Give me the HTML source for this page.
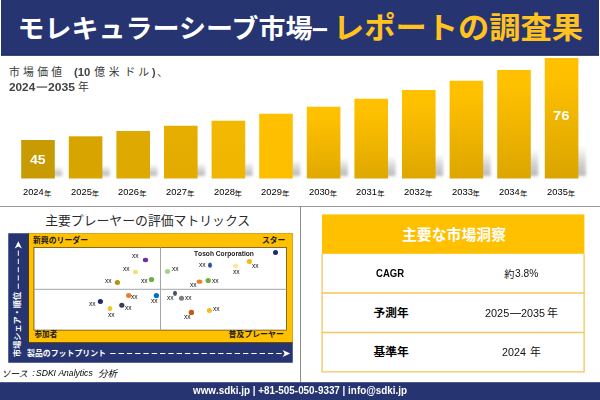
<!DOCTYPE html>
<html lang="ja"><head><meta charset="utf-8"><title>モレキュラーシーブ市場 - レポートの調査果</title>
<style>
html,body{margin:0;padding:0;background:#fff}
body{width:600px;height:400px;position:relative;overflow:hidden;font-family:"Liberation Sans",sans-serif}
svg{position:absolute;left:0;top:0;display:block}
svg text{font-family:"Liberation Sans","Noto Sans CJK JP",sans-serif}
.txt{position:absolute;left:0;top:0;width:600px;height:400px;will-change:transform}
.t{position:absolute;white-space:nowrap;line-height:1;transform-origin:0 0;font-kerning:none}
</style></head><body>
<svg width="600" height="400" viewBox="0 0 600 400"><defs><filter id="bl" x="-50%" y="-20%" width="200%" height="140%"><feGaussianBlur stdDeviation="1.4"/></filter><linearGradient id="sh" x1="0" y1="0" x2="0" y2="1"><stop offset="0" stop-color="#000" stop-opacity="0"/><stop offset="0.55" stop-color="#000" stop-opacity="0.17"/><stop offset="1" stop-color="#000" stop-opacity="0.27"/></linearGradient><linearGradient id="g0" x1="0" y1="0" x2="0" y2="1"><stop offset="0.15" stop-color="#c89b03"/><stop offset="1" stop-color="#c89b03"/></linearGradient><linearGradient id="g1" x1="0" y1="0" x2="0" y2="1"><stop offset="0.15" stop-color="#d8a500"/><stop offset="1" stop-color="#d8a500"/></linearGradient><linearGradient id="g2" x1="0" y1="0" x2="0" y2="1"><stop offset="0.15" stop-color="#dea900"/><stop offset="1" stop-color="#dea900"/></linearGradient><linearGradient id="g3" x1="0" y1="0" x2="0" y2="1"><stop offset="0.15" stop-color="#e6ae00"/><stop offset="1" stop-color="#e3ab00"/></linearGradient><linearGradient id="g4" x1="0" y1="0" x2="0" y2="1"><stop offset="0.15" stop-color="#f3b800"/><stop offset="1" stop-color="#efb500"/></linearGradient><linearGradient id="g5" x1="0" y1="0" x2="0" y2="1"><stop offset="0.15" stop-color="#ffc000"/><stop offset="1" stop-color="#fdbe00"/></linearGradient><linearGradient id="g6" x1="0" y1="0" x2="0" y2="1"><stop offset="0.15" stop-color="#ffc000"/><stop offset="1" stop-color="#e0a900"/></linearGradient><linearGradient id="g7" x1="0" y1="0" x2="0" y2="1"><stop offset="0.15" stop-color="#ffc000"/><stop offset="1" stop-color="#dfa800"/></linearGradient><linearGradient id="g8" x1="0" y1="0" x2="0" y2="1"><stop offset="0.15" stop-color="#ffc000"/><stop offset="1" stop-color="#dea700"/></linearGradient><linearGradient id="g9" x1="0" y1="0" x2="0" y2="1"><stop offset="0.15" stop-color="#ffc000"/><stop offset="1" stop-color="#dda600"/></linearGradient><linearGradient id="g10" x1="0" y1="0" x2="0" y2="1"><stop offset="0.15" stop-color="#ffc000"/><stop offset="1" stop-color="#dca600"/></linearGradient><linearGradient id="g11" x1="0" y1="0" x2="0" y2="1"><stop offset="0.15" stop-color="#ffc000"/><stop offset="1" stop-color="#daa500"/></linearGradient></defs>
<rect x="1" y="0" width="598" height="55.6" fill="#263471"/>
<rect x="1" y="54.6" width="598" height="1" fill="#1b2359"/>
<text x="17.5" y="37.6" font-size="26" font-weight="bold" fill="#fff" textLength="295" lengthAdjust="spacingAndGlyphs">モレキュラーシーブ市場</text>
<rect x="312.8" y="28.1" width="14.4" height="3" fill="#fff"/>
<text x="333" y="38.2" font-size="30" font-weight="bold" fill="#ffc21f" textLength="250" lengthAdjust="spacingAndGlyphs">レポートの調査果</text>
<rect x="51.80" y="166.38" width="10.5" height="9.62" fill="url(#sh)" filter="url(#bl)"/>
<rect x="99.40" y="165.45" width="10.5" height="10.55" fill="url(#sh)" filter="url(#bl)"/>
<rect x="147.00" y="164.12" width="10.5" height="11.88" fill="url(#sh)" filter="url(#bl)"/>
<rect x="194.60" y="162.81" width="10.5" height="13.19" fill="url(#sh)" filter="url(#bl)"/>
<rect x="242.20" y="161.56" width="10.5" height="14.44" fill="url(#sh)" filter="url(#bl)"/>
<rect x="289.80" y="159.81" width="10.5" height="16.19" fill="url(#sh)" filter="url(#bl)"/>
<rect x="337.40" y="158.06" width="10.5" height="17.94" fill="url(#sh)" filter="url(#bl)"/>
<rect x="385.00" y="156.06" width="10.5" height="19.94" fill="url(#sh)" filter="url(#bl)"/>
<rect x="432.60" y="153.88" width="10.5" height="22.12" fill="url(#sh)" filter="url(#bl)"/>
<rect x="480.20" y="151.56" width="10.5" height="24.44" fill="url(#sh)" filter="url(#bl)"/>
<rect x="527.80" y="148.88" width="10.5" height="27.12" fill="url(#sh)" filter="url(#bl)"/>
<rect x="575.40" y="145.88" width="10.5" height="30.12" fill="url(#sh)" filter="url(#bl)"/>
<rect x="21.20" y="140.00" width="33.6" height="38.50" fill="url(#g0)"/>
<rect x="68.80" y="136.30" width="33.6" height="42.20" fill="url(#g1)"/>
<rect x="116.40" y="131.00" width="33.6" height="47.50" fill="url(#g2)"/>
<rect x="164.00" y="125.75" width="33.6" height="52.75" fill="url(#g3)"/>
<rect x="211.60" y="120.75" width="33.6" height="57.75" fill="url(#g4)"/>
<rect x="259.20" y="113.75" width="33.6" height="64.75" fill="url(#g5)"/>
<rect x="306.80" y="106.75" width="33.6" height="71.75" fill="url(#g6)"/>
<rect x="354.40" y="98.75" width="33.6" height="79.75" fill="url(#g7)"/>
<rect x="402.00" y="90.00" width="33.6" height="88.50" fill="url(#g8)"/>
<rect x="449.60" y="80.75" width="33.6" height="97.75" fill="url(#g9)"/>
<rect x="497.20" y="70.00" width="33.6" height="108.50" fill="url(#g10)"/>
<rect x="544.80" y="58.00" width="33.6" height="120.50" fill="url(#g11)"/>
<text x="44.1" y="195.5" font-size="7.4" fill="#000">年</text>
<text x="91.7" y="195.5" font-size="7.4" fill="#000">年</text>
<text x="139.3" y="195.5" font-size="7.4" fill="#000">年</text>
<text x="186.9" y="195.5" font-size="7.4" fill="#000">年</text>
<text x="234.5" y="195.5" font-size="7.4" fill="#000">年</text>
<text x="282.1" y="195.5" font-size="7.4" fill="#000">年</text>
<text x="329.7" y="195.5" font-size="7.4" fill="#000">年</text>
<text x="377.3" y="195.5" font-size="7.4" fill="#000">年</text>
<text x="424.9" y="195.5" font-size="7.4" fill="#000">年</text>
<text x="472.5" y="195.5" font-size="7.4" fill="#000">年</text>
<text x="520.1" y="195.5" font-size="7.4" fill="#000">年</text>
<text x="567.7" y="195.5" font-size="7.4" fill="#000">年</text>
<text x="9" y="76" font-size="10.8" fill="#3a3a3a" textLength="53" lengthAdjust="spacing">市場価値</text>
<text x="94.2" y="76" font-size="10.8" fill="#3a3a3a" textLength="25.4" lengthAdjust="spacing">億米</text>
<text x="124.5" y="76" font-size="10.8" fill="#3a3a3a" textLength="24.5" lengthAdjust="spacing">ドル</text>
<text x="157" y="76" font-size="10.8" fill="#3a3a3a">、</text>
<rect x="36.6" y="86.5" width="10.6" height="1.1" fill="#3a3a3a"/>
<text x="78" y="91" font-size="10.8" fill="#3a3a3a">年</text>
<rect x="0" y="206" width="600" height="1" fill="#999"/>
<rect x="300" y="206" width="1" height="176" fill="#8c8c8c"/>
<text x="45.2" y="224.7" font-size="12.8" fill="#2b2b2b" textLength="205" lengthAdjust="spacingAndGlyphs">主要プレーヤーの評価マトリックス</text>
<rect x="8.25" y="233.25" width="284.5" height="129.5" fill="#263471"/>
<rect x="28.5" y="233.25" width="264.25" height="109.3" fill="#ffc000"/>
<rect x="28.1" y="233.25" width="0.9" height="109.6" fill="#3d3212"/>
<rect x="28.1" y="342.3" width="264.65" height="1" fill="#4a3a12"/>
<rect x="34" y="247.5" width="252.5" height="82.6" fill="#fff" stroke="#4d3b00" stroke-width="0.7"/>
<rect x="160" y="247.5" width="1" height="82.6" fill="#a6a6a6"/>
<rect x="34" y="288.8" width="252.5" height="1" fill="#a6a6a6"/>
<text x="33" y="243.3" font-size="7.8" font-weight="bold" fill="#1a1a1a" textLength="55" lengthAdjust="spacingAndGlyphs">新興のリーダー</text>
<text x="262" y="243.3" font-size="7.8" font-weight="bold" fill="#1a1a1a" textLength="23.3" lengthAdjust="spacingAndGlyphs">スター</text>
<text x="34.5" y="337.2" font-size="7.6" font-weight="bold" fill="#1a1a1a" textLength="22.7" lengthAdjust="spacingAndGlyphs">参加者</text>
<text x="228.4" y="337.2" font-size="7.8" font-weight="bold" fill="#1a1a1a" textLength="55.4" lengthAdjust="spacingAndGlyphs">普及プレーヤー</text>
<text x="27" y="355.6" font-size="7.8" font-weight="bold" fill="#fff" textLength="79" lengthAdjust="spacingAndGlyphs">製品のフットプリント</text>
<text transform="translate(20.2 356.7) rotate(-90)" x="-0.2" y="0.1" font-size="8" font-weight="bold" fill="#fff" textLength="65" lengthAdjust="spacingAndGlyphs">市場シェア・順位</text>
<path d="M18.3 288.8V248" stroke="#fff" stroke-width="1" stroke-dasharray="5.25 3" fill="none"/>
<path d="M18.3 241.2l3.6 7.2l-3.6 -2l-3.6 2z" fill="#fff"/>
<path d="M110.2 353.5H283" stroke="#fff" stroke-width="1" stroke-dasharray="5.4 2.9" fill="none"/>
<path d="M290.2 353.5l-7.6 -3.5l2 3.5l-2 3.5z" fill="#fff"/>
<ellipse cx="145.5" cy="260" rx="2.7" ry="2.2" fill="#7030a0"/>
<ellipse cx="135.4" cy="272" rx="2.5" ry="2.3" fill="#efe070"/>
<ellipse cx="117.4" cy="282.5" rx="2.6" ry="2.5" fill="#b8900a"/>
<ellipse cx="151.5" cy="279.5" rx="2.7" ry="2.6" fill="#70ad47"/>
<ellipse cx="167.5" cy="271.5" rx="2.6" ry="2.5" fill="#a9d18e"/>
<ellipse cx="128.7" cy="295.5" rx="2.7" ry="2.5" fill="#ed7d31"/>
<ellipse cx="156.4" cy="295.5" rx="2.6" ry="2.6" fill="#0070c0"/>
<ellipse cx="100.4" cy="301.6" rx="2.6" ry="2.5" fill="#1f2a6b"/>
<ellipse cx="175" cy="293.3" rx="2.0" ry="2.6" fill="#44546a"/>
<ellipse cx="121.8" cy="305.2" rx="2.6" ry="2.5" fill="#333f50"/>
<ellipse cx="110" cy="308.5" rx="2.3" ry="2.6" fill="#f4c430"/>
<ellipse cx="210" cy="265.2" rx="2.0" ry="2.6" fill="#2f5597"/>
<ellipse cx="235.6" cy="266" rx="2.5" ry="2.5" fill="#ffe699"/>
<ellipse cx="199.5" cy="281.7" rx="2.8" ry="2.1" fill="#ed7d31"/>
<ellipse cx="208.2" cy="280.5" rx="2.7" ry="2.6" fill="#70ad47"/>
<ellipse cx="181.5" cy="298.2" rx="2.6" ry="2.5" fill="#7f7f7f"/>
<ellipse cx="191.4" cy="312.4" rx="2.7" ry="2.6" fill="#c55a11"/>
<ellipse cx="209.4" cy="310.5" rx="2.6" ry="2.5" fill="#f5be28"/>
<ellipse cx="275.5" cy="252.4" rx="2.5" ry="2.5" fill="#1f2a6b"/>
<ellipse cx="249.4" cy="261.4" rx="2.6" ry="2.5" fill="#f5b919"/>
<text x="1.5" y="376.7" font-size="9" font-style="italic" fill="#000" textLength="26" lengthAdjust="spacingAndGlyphs">ソース</text>
<text x="98" y="376.8" font-size="9.4" font-style="italic" fill="#000" textLength="19" lengthAdjust="spacingAndGlyphs">分析</text>
<rect x="322" y="214.4" width="262.4" height="39.4" fill="#ffc000"/>
<path d="M322.1 253.8V371.8H584.1V253.8M322.1 293H584.1M322.1 332.5H584.1" fill="none" stroke="#f2c75c" stroke-width="1.3"/>
<text x="402" y="240.2" font-size="14.6" font-weight="bold" fill="#fff" textLength="104" lengthAdjust="spacingAndGlyphs">主要な市場洞察</text>
<text x="504.2" y="278" font-size="10.2" fill="#111">約</text>
<text x="373.6" y="317" font-size="11.6" font-weight="bold" fill="#000" textLength="35" lengthAdjust="spacingAndGlyphs">予測年</text>
<text x="373.6" y="356" font-size="11.6" font-weight="bold" fill="#000" textLength="35.3" lengthAdjust="spacingAndGlyphs">基準年</text>
<rect x="510" y="313" width="11" height="0.9" fill="#222"/>
<text x="546.9" y="317.3" font-size="10.8" fill="#111">年</text>
<text x="530" y="356" font-size="10.8" fill="#111">年</text>
<rect x="0" y="382.2" width="600" height="17.8" fill="#263471"/>
</svg>
<div class="txt">
<span class="t" style="left:29.79px;top:152.66px;font-size:13.40px;color:#fff;font-weight:bold;transform:scaleX(1.0468);">45</span>
<span class="t" style="left:552.96px;top:109.00px;font-size:13.00px;color:#fff;font-weight:bold;transform:scaleX(1.1391);">76</span>
<span class="t" style="left:23.28px;top:188.15px;font-size:8.80px;color:#000;transform:scaleX(1.0595);">2024</span>
<span class="t" style="left:70.88px;top:188.15px;font-size:8.80px;color:#000;transform:scaleX(1.0658);">2025</span>
<span class="t" style="left:118.48px;top:188.15px;font-size:8.80px;color:#000;transform:scaleX(1.0668);">2026</span>
<span class="t" style="left:166.08px;top:188.15px;font-size:8.80px;color:#000;transform:scaleX(1.0700);">2027</span>
<span class="t" style="left:213.68px;top:188.15px;font-size:8.80px;color:#000;transform:scaleX(1.0666);">2028</span>
<span class="t" style="left:261.28px;top:188.15px;font-size:8.80px;color:#000;transform:scaleX(1.0685);">2029</span>
<span class="t" style="left:308.88px;top:188.15px;font-size:8.80px;color:#000;transform:scaleX(1.0644);">2030</span>
<span class="t" style="left:356.48px;top:188.15px;font-size:8.80px;color:#000;transform:scaleX(1.0693);">2031</span>
<span class="t" style="left:404.08px;top:188.15px;font-size:8.80px;color:#000;transform:scaleX(1.0700);">2032</span>
<span class="t" style="left:451.68px;top:188.15px;font-size:8.80px;color:#000;transform:scaleX(1.0668);">2033</span>
<span class="t" style="left:499.28px;top:188.15px;font-size:8.80px;color:#000;transform:scaleX(1.0595);">2034</span>
<span class="t" style="left:546.88px;top:188.15px;font-size:8.80px;color:#000;transform:scaleX(1.0658);">2035</span>
<span class="t" style="left:74.03px;top:67.03px;font-size:10.60px;color:#444;font-weight:bold;transform:scaleX(1.0726);">(10</span>
<span class="t" style="left:151.99px;top:67.03px;font-size:10.60px;color:#444;font-weight:bold;">)</span>
<span class="t" style="left:8.59px;top:81.94px;font-size:10.70px;color:#444;font-weight:bold;transform:scaleX(1.1037);">2024</span>
<span class="t" style="left:48.28px;top:81.94px;font-size:10.70px;color:#444;font-weight:bold;transform:scaleX(1.1368);">2035</span>
<span class="t" style="left:131.73px;top:252.74px;font-size:6.80px;color:#111;transform:scaleX(0.9774);">xx</span>
<span class="t" style="left:122.73px;top:265.74px;font-size:6.80px;color:#111;transform:scaleX(0.9774);">xx</span>
<span class="t" style="left:104.73px;top:278.44px;font-size:6.80px;color:#111;transform:scaleX(0.9774);">xx</span>
<span class="t" style="left:140.73px;top:278.44px;font-size:6.80px;color:#111;transform:scaleX(0.9774);">xx</span>
<span class="t" style="left:171.73px;top:266.44px;font-size:6.80px;color:#111;transform:scaleX(0.9774);">xx</span>
<span class="t" style="left:130.93px;top:293.64px;font-size:6.80px;color:#111;transform:scaleX(0.9774);">xx</span>
<span class="t" style="left:150.83px;top:297.64px;font-size:6.80px;color:#111;transform:scaleX(0.9774);">xx</span>
<span class="t" style="left:166.83px;top:294.54px;font-size:6.80px;color:#111;transform:scaleX(0.9774);">xx</span>
<span class="t" style="left:88.93px;top:300.74px;font-size:6.80px;color:#111;transform:scaleX(0.9774);">xx</span>
<span class="t" style="left:107.73px;top:311.74px;font-size:6.80px;color:#111;transform:scaleX(0.9774);">xx</span>
<span class="t" style="left:124.93px;top:304.74px;font-size:6.80px;color:#111;transform:scaleX(0.9774);">xx</span>
<span class="t" style="left:198.93px;top:262.44px;font-size:6.80px;color:#111;transform:scaleX(0.9774);">xx</span>
<span class="t" style="left:233.03px;top:268.74px;font-size:6.80px;color:#111;transform:scaleX(0.9774);">xx</span>
<span class="t" style="left:189.93px;top:281.74px;font-size:6.80px;color:#111;transform:scaleX(0.9774);">xx</span>
<span class="t" style="left:211.73px;top:278.44px;font-size:6.80px;color:#111;transform:scaleX(0.9774);">xx</span>
<span class="t" style="left:184.73px;top:294.54px;font-size:6.80px;color:#111;transform:scaleX(0.9774);">xx</span>
<span class="t" style="left:183.73px;top:314.44px;font-size:6.80px;color:#111;transform:scaleX(0.9774);">xx</span>
<span class="t" style="left:212.73px;top:306.44px;font-size:6.80px;color:#111;transform:scaleX(0.9774);">xx</span>
<span class="t" style="left:251.73px;top:262.54px;font-size:6.80px;color:#111;transform:scaleX(0.9774);">xx</span>
<span class="t" style="left:193.63px;top:250.56px;font-size:6.90px;color:#1a1a1a;font-weight:bold;transform:scaleX(0.9661);">Tosoh Corporation</span>
<span class="t" style="left:32.23px;top:368.04px;font-size:9.40px;color:#000;font-style:italic;">:</span>
<span class="t" style="left:35.66px;top:368.24px;font-size:9.40px;color:#000;font-style:italic;transform:scaleX(0.9140);">SDKI Analytics</span>
<span class="t" style="left:375.86px;top:268.87px;font-size:10.20px;color:#000;font-weight:bold;transform:scaleX(0.9352);">CAGR</span>
<span class="t" style="left:515.11px;top:268.70px;font-size:10.40px;color:#111;transform:scaleX(0.9809);">3.8%</span>
<span class="t" style="left:485.20px;top:308.03px;font-size:10.60px;color:#111;transform:scaleX(1.0286);">2025</span>
<span class="t" style="left:521.46px;top:308.03px;font-size:10.60px;color:#111;transform:scaleX(1.0176);">2035</span>
<span class="t" style="left:501.96px;top:346.53px;font-size:10.60px;color:#111;transform:scaleX(1.0116);">2024</span>
<span class="t" style="left:193.03px;top:386.17px;font-size:10.20px;color:#fff;font-weight:bold;transform:scaleX(0.9694);">www.sdki.jp | +81-505-050-9337 | info@sdki.jp</span>
</div>
</body></html>
